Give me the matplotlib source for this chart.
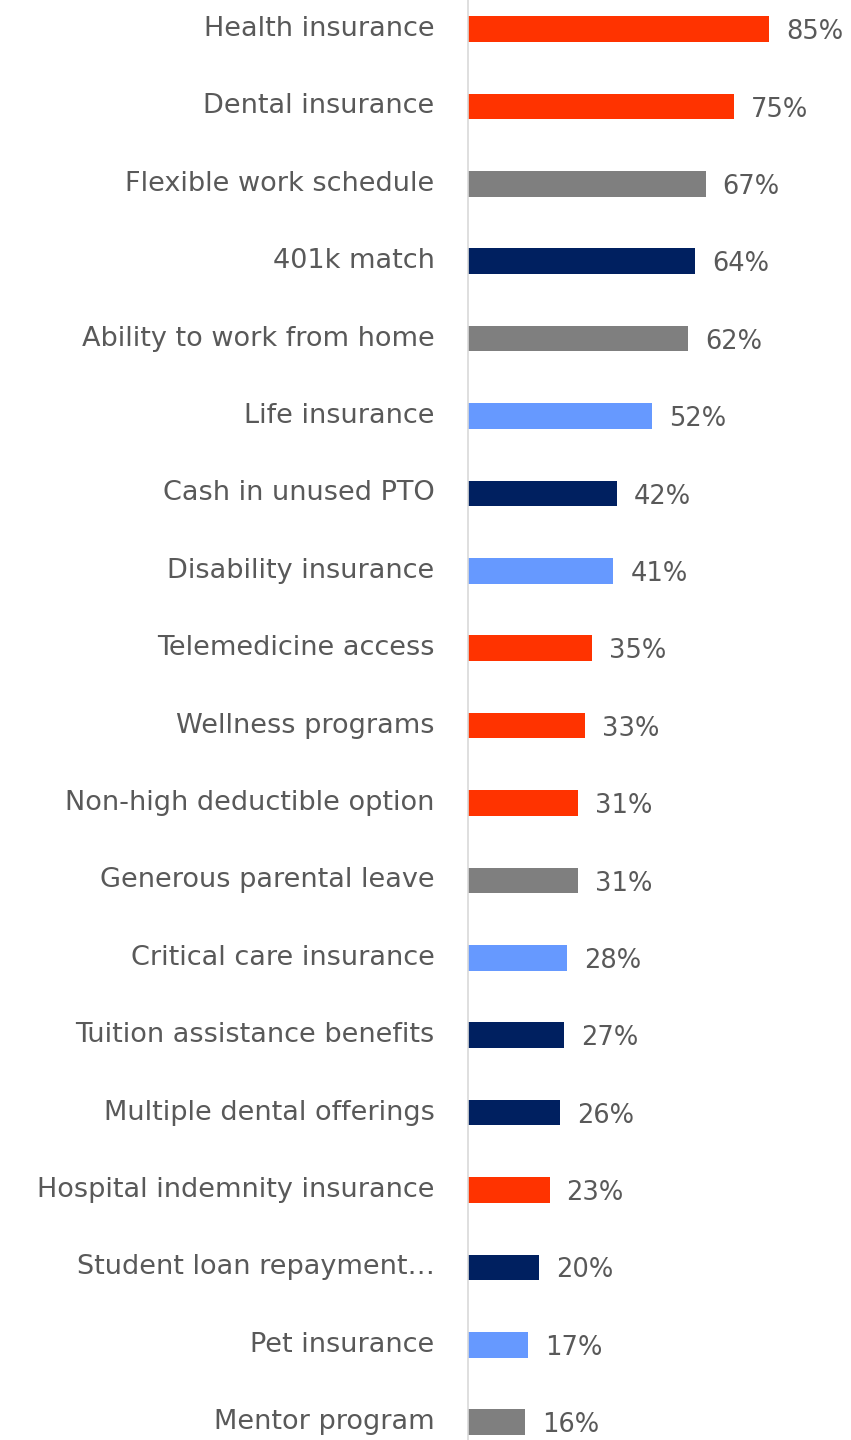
import matplotlib.pyplot as plt
import matplotlib.transforms as mtransforms

# --- dati ---
benefici = [
    "Health insurance", "Dental insurance", "Flexible work schedule", "401k match",
    "Ability to work from home", "Life insurance", "Cash in unused PTO",
    "Disability insurance", "Telemedicine access", "Wellness programs",
    "Non-high deductible option", "Generous parental leave", "Critical care insurance",
    "Tuition assistance benefits", "Multiple dental offerings",
    "Hospital indemnity insurance", "Student loan repayment\u2026", "Pet insurance",
    "Mentor program",
]
percentuali = [85, 75, 67, 64, 62, 52, 42, 41, 35, 33, 31, 31, 28, 27, 26, 23, 20, 17, 16]
gruppi = ["r", "r", "g", "n", "g", "b", "n", "b", "r", "r", "r", "g", "b", "n", "n", "r", "n", "b", "g"]

colori = {"r": "#FF3300", "g": "#7F7F7F", "n": "#002060", "b": "#6699FF"}
TESTO = "#595959"

plt.rcParams['font.family'] = ['DejaVu Sans']

fig = plt.figure(figsize=(8.51, 14.4), dpi=100)
ax = fig.add_axes([468 / 851, 0, 1 - 468 / 851, 1])

pos = list(range(len(benefici)))
ax.barh(pos, percentuali, height=0.33, color=[colori[g] for g in gruppi])

# etichette dei valori a destra delle barre
for y, v in zip(pos, percentuali):
    ax.text(v + 4.8, y + 0.04, f"{v}%", va='center', ha='left', fontsize=18.5, color=TESTO)

ax.set_yticks(pos)
ax.set_yticklabels(benefici, fontsize=19.5, color=TESTO)
ax.tick_params(axis='y', length=0, pad=24)
ax.set_xticks([])
ax.set_xlim(0, 108)
ax.set_ylim(18.23, -0.375)

# sposta leggermente in alto le etichette delle categorie
sposta = mtransforms.ScaledTranslation(0, 3 / 100, fig.dpi_scale_trans)
for lab in ax.get_yticklabels():
    lab.set_transform(lab.get_transform() + sposta)

for s in ['top', 'right', 'bottom']:
    ax.spines[s].set_visible(False)
ax.spines['left'].set_color('#D9D9D9')
ax.spines['left'].set_linewidth(1.2)

fig.savefig("out.png", dpi=100, facecolor='white')
